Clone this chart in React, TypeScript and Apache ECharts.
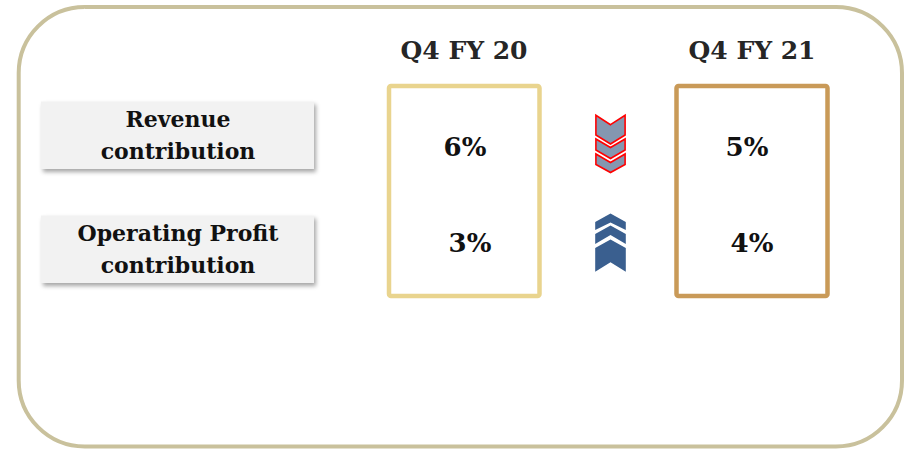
import React, { useEffect, useRef } from "react";
import * as echarts from "echarts";

// ---- data ----
const periods = ["Q4 FY 20", "Q4 FY 21"];
const metrics = ["Revenue\ncontribution", "Operating Profit\ncontribution"];
const fy20Values = [6, 3];
const fy21Values = [5, 4];

const FONT = "DejaVu Serif";

export default function App() {
  const ref = useRef<HTMLDivElement>(null);

  useEffect(() => {
    if (!ref.current) return;
    const chart = echarts.init(ref.current, undefined, { renderer: "svg" });

    const xCats = [periods[0], "", periods[1]];

    // small horizontal label nudges (layout only): [fy20, fy21] per row
    const nudge = [
      [1, -5],
      [6, 0],
    ];

    const valueData: any[] = [];
    metrics.forEach((_, i) => {
      valueData.push({ value: [0, i, fy20Values[i]], label: { offset: [nudge[i][0], 0] } });
      valueData.push({ value: [2, i, fy21Values[i]], label: { offset: [nudge[i][1], 0] } });
    });
    const arrowData = metrics.map((_, i) => [1, i, fy21Values[i] - fy20Values[i]]);

    // label box vertical placement (layout only)
    const labelBoxTop = [101.5, 215.5];
    const labelBoxH = 67.5;

    const graphics: any[] = [
      {
        type: "rect",
        shape: { x: 18.7, y: 7, width: 883.3, height: 439.5, r: 66 },
        style: { fill: "none", stroke: "#C9C19C", lineWidth: 4 },
        silent: true,
      },
      {
        type: "rect",
        shape: { x: 389, y: 86, width: 150.5, height: 210, r: 2 },
        style: { fill: "none", stroke: "#E9D48E", lineWidth: 4.5 },
        silent: true,
      },
      {
        type: "rect",
        shape: { x: 676.5, y: 86, width: 151, height: 210, r: 2 },
        style: { fill: "none", stroke: "#C99A58", lineWidth: 4.5 },
        silent: true,
      },
    ];
    metrics.forEach((m, i) => {
      graphics.push({
        type: "rect",
        shape: { x: 41, y: labelBoxTop[i], width: 273, height: labelBoxH },
        style: {
          fill: "#F2F2F2",
          shadowBlur: 4,
          shadowOffsetX: 2,
          shadowOffsetY: 3,
          shadowColor: "rgba(0,0,0,0.35)",
        },
        silent: true,
      });
      graphics.push({
        type: "text",
        x: 178,
        y: labelBoxTop[i] + labelBoxH / 2,
        style: {
          text: m,
          fill: "#111111",
          font: `bold 22px "${FONT}"`,
          lineHeight: 32,
          align: "center",
          verticalAlign: "middle",
        },
        silent: true,
      });
    });

    // chevron shapes: [cornerA, centerA, cornerB, centerB] (y relative to row center)
    const upChevrons = [
      [-21, -29.5, -13, -20.5],
      [-9, -17.5, 1, -8],
      [5, -3.5, 28.7, 19.3],
    ];
    const downChevrons = [
      [-31.7, -22.3, -12, -3],
      [-8, 0.5, 3, 11.5],
      [7, 15.5, 17.5, 25.5],
    ];

    const option: any = {
      animation: false,
      backgroundColor: "#ffffff",
      graphic: graphics,
      grid: { left: 392, top: 99, width: 432, height: 192 },
      xAxis: {
        type: "category",
        position: "top",
        data: xCats,
        axisLine: { show: false },
        axisTick: { show: false },
        splitLine: { show: false },
        axisLabel: {
          show: true,
          interval: 0,
          margin: 36,
          color: "#262626",
          fontFamily: FONT,
          fontWeight: "bold",
          fontSize: 25,
        },
      },
      yAxis: {
        type: "category",
        inverse: true,
        data: metrics,
        show: false,
      },
      series: [
        {
          type: "scatter",
          data: valueData,
          symbol: "circle",
          symbolSize: 1,
          itemStyle: { color: "rgba(0,0,0,0)", opacity: 1 },
          label: {
            show: true,
            position: "inside",
            formatter: (p: any) => `${p.value[2]}%`,
            color: "#111111",
            opacity: 1,
            fontFamily: FONT,
            fontWeight: "bold",
            fontSize: 26,
          },
          silent: true,
        },
        {
          type: "custom",
          data: arrowData,
          silent: true,
          renderItem: (params: any, api: any) => {
            const pt = api.coord([api.value(0), api.value(1)]);
            const diff = api.value(2);
            const down = diff < 0;
            const cx = pt[0] + 2.5;
            const cy = pt[1];
            const W = down ? 14.6 : 15.3;
            const shapes = down ? downChevrons : upChevrons;
            const children = shapes.map((c) => {
              const [ca, ma, cb, mb] = c;
              return {
                type: "polygon",
                shape: {
                  points: [
                    [cx, cy + ma],
                    [cx + W, cy + ca],
                    [cx + W, cy + cb],
                    [cx, cy + mb],
                    [cx - W, cy + cb],
                    [cx - W, cy + ca],
                  ],
                },
                style: down
                  ? { fill: "#8497B0", stroke: "#FF0000", lineWidth: 1.6, lineJoin: "miter" }
                  : { fill: "#3A5F8F" },
              };
            });
            return { type: "group", children };
          },
        },
      ],
    };

    chart.setOption(option);
    return () => chart.dispose();
  }, []);

  return (
    <div
      ref={ref}
      style={{ position: "fixed", left: 0, top: 0, width: 912, height: 449, background: "#fff" }}
    />
  );
}
